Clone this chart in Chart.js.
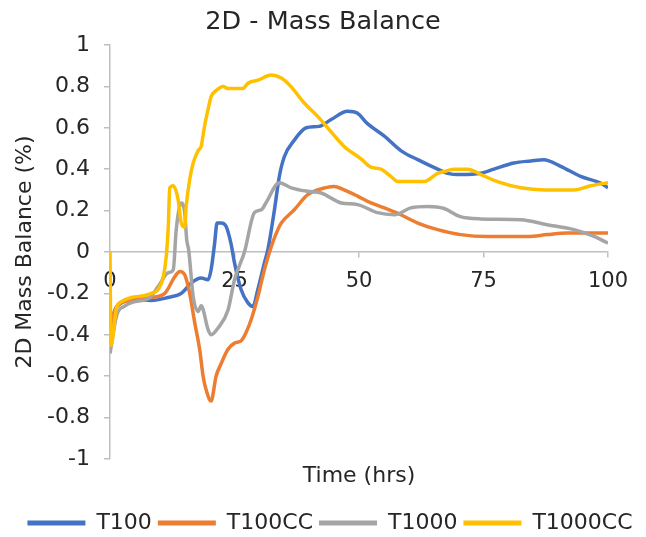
<!DOCTYPE html>
<html>
<head>
<meta charset="utf-8">
<title>2D - Mass Balance</title>
<script src="https://cdn.jsdelivr.net/npm/chart.js@4.4.1/dist/chart.umd.min.js"></script>
<style>
  html, body { margin: 0; padding: 0; background: #ffffff; }
  #wrap { width: 646px; height: 537px; }
</style>
</head>
<body>
<div id="wrap"><canvas id="chart" width="646" height="537"></canvas></div>
<script>
// Series names and colours
const seriesNames = ['T100', 'T100CC', 'T1000', 'T1000CC'];
const seriesColors = ['#4472C4', '#ED7D31', '#A5A5A5', '#FFC000'];

// Axis ticks
const xTicks = [0, 25, 50, 75, 100];
const yTicks = [-1, -0.8, -0.6, -0.4, -0.2, 0, 0.2, 0.4, 0.6, 0.8, 1];

// T100 (time in hrs, mass balance)
const t100Time = [0, 1, 2, 5, 8.3, 11.6, 14.3, 16.3, 18.3, 19.7, 20.3, 21.0, 21.5, 22.3, 23.3, 24.3, 25.0, 26.3, 27.7, 28.7, 29.7, 31.0, 31.7, 33.0, 34.0, 35.0, 37.0, 39.4, 42.0, 44.4, 47.7, 49.7, 51.7, 55.1, 58.4, 61.8, 65.8, 67.8, 70.4, 74.4, 77.1, 81.1, 84.5, 87.1, 90.5, 94.5, 98.5, 100];
const t100Values = [-0.38, -0.28, -0.25, -0.23, -0.234, -0.22, -0.2, -0.15, -0.126, -0.134, -0.086, 0.04, 0.14, 0.14, 0.124, 0.04, -0.053, -0.18, -0.246, -0.263, -0.18, -0.053, 0.011, 0.20, 0.365, 0.46, 0.54, 0.60, 0.607, 0.64, 0.68, 0.67, 0.62, 0.56, 0.49, 0.446, 0.40, 0.38, 0.374, 0.38, 0.40, 0.43, 0.44, 0.446, 0.414, 0.365, 0.333, 0.31];

// T100CC
const t100ccTime = [0, 1, 2, 5, 8.3, 11.0, 13.0, 14.0, 15.0, 16.0, 17.0, 18.0, 18.7, 19.3, 20.3, 21.3, 22.3, 23.7, 25.0, 26.3, 27.3, 28.3, 29.7, 31.0, 32.4, 33.7, 34.4, 37.0, 39.7, 41.7, 45.0, 47.0, 49.7, 52.4, 55.1, 58.4, 61.8, 65.8, 70.4, 75.8, 83.8, 87.8, 91.8, 100];
const t100ccValues = [-0.36, -0.28, -0.25, -0.23, -0.22, -0.2, -0.12, -0.094, -0.11, -0.2, -0.34, -0.47, -0.60, -0.666, -0.72, -0.60, -0.54, -0.47, -0.44, -0.43, -0.39, -0.33, -0.215, -0.086, 0.027, 0.108, 0.14, 0.204, 0.277, 0.30, 0.317, 0.30, 0.27, 0.237, 0.213, 0.18, 0.14, 0.108, 0.084, 0.075, 0.075, 0.084, 0.092, 0.092];

// T1000
const t1000Time = [0, 1.3, 3.0, 5, 8, 9.7, 11.7, 12.7, 13.3, 14.3, 15.0, 15.4, 15.8, 16.7, 17.7, 18.3, 19.7, 20.3, 21.7, 23.7, 25.0, 27.0, 29.0, 30.4, 31.3, 34.0, 36.4, 39.7, 42.4, 46.4, 49.7, 53.7, 57.1, 60.4, 63.8, 67.1, 70.2, 74.4, 82.5, 87.8, 93.2, 97.2, 100];
const t1000Values = [-0.49, -0.31, -0.26, -0.24, -0.22, -0.166, -0.10, -0.086, 0.108, 0.237, 0.19, 0.06, 0.01, -0.215, -0.287, -0.26, -0.375, -0.40, -0.367, -0.28, -0.134, 0.0, 0.19, 0.204, 0.237, 0.335, 0.31, 0.293, 0.285, 0.237, 0.229, 0.19, 0.18, 0.213, 0.22, 0.21, 0.172, 0.16, 0.156, 0.132, 0.108, 0.075, 0.043];

// T1000CC
const t1000ccTime = [0, 0.2, 1.3, 2.3, 4.3, 7, 8.3, 9.7, 10.7, 11.3, 11.7, 12.0, 12.7, 13.7, 14.3, 15.0, 15.3, 16.0, 16.7, 17.7, 18.3, 19.0, 19.7, 20.3, 21.3, 22.7, 23.7, 26.7, 27.7, 29.7, 32.4, 34.4, 36.3, 39.0, 41.7, 44.4, 47.0, 50.4, 52.4, 54.4, 56.4, 57.8, 63.1, 65.8, 67.4, 69.1, 71.8, 74.4, 77.8, 82.5, 87.2, 93.2, 96.5, 100];
const t1000ccValues = [0.0, -0.45, -0.27, -0.24, -0.22, -0.21, -0.2, -0.18, -0.12, -0.02, 0.12, 0.31, 0.32, 0.25, 0.14, 0.12, 0.22, 0.35, 0.43, 0.49, 0.51, 0.61, 0.69, 0.75, 0.78, 0.80, 0.79, 0.79, 0.815, 0.83, 0.855, 0.84, 0.80, 0.72, 0.655, 0.58, 0.51, 0.45, 0.41, 0.40, 0.365, 0.34, 0.34, 0.38, 0.39, 0.40, 0.40, 0.375, 0.34, 0.31, 0.30, 0.30, 0.32, 0.335];

const seriesTimes = [t100Time, t100ccTime, t1000Time, t1000ccTime];
const seriesValues = [t100Values, t100ccValues, t1000Values, t1000ccValues];

const FONT = "'DejaVu Sans', Verdana, sans-serif";
const TEXT = '#262626';
const AXIS = '#BFBFBF';

const toPoints = (times, values) => times.map((t, i) => ({ x: t, y: values[i] }));

// later series are drawn on top of earlier ones
const datasets = seriesNames.map((name, i) => ({
  label: name,
  data: toPoints(seriesTimes[i], seriesValues[i]),
  borderColor: seriesColors[i],
  backgroundColor: seriesColors[i],
  borderWidth: 3.5,
  pointRadius: 0,
  pointHoverRadius: 0,
  fill: false,
  cubicInterpolationMode: 'monotone',
  order: seriesNames.length - i,
  xAxisID: 'x',
  yAxisID: 'y'
}));

const zeroPadding = (s) => { s.paddingLeft = 0; s.paddingRight = 0; s.paddingTop = 0; s.paddingBottom = 0; };

// nudge the legend row slightly to the right
const legendShift = {
  id: 'legendShift',
  afterLayout(chart) {
    if (chart.legend) { chart.legend.left += 7; chart.legend.right += 7; }
  }
};

new Chart(document.getElementById('chart'), {
  type: 'line',
  data: { datasets },
  plugins: [legendShift],
  options: {
    responsive: false,
    animation: false,
    devicePixelRatio: 1,
    events: [],
    layout: { padding: { left: 0, right: 0, top: 0, bottom: -7 } },
    plugins: {
      title: {
        display: true,
        text: '2D - Mass Balance',
        color: TEXT,
        font: { family: FONT, size: 25.5, weight: 'normal' },
        padding: { top: 6.7, bottom: 7.7 }
      },
      legend: {
        position: 'bottom',
        labels: {
          color: TEXT,
          font: { family: FONT, size: 22 },
          usePointStyle: true,
          pointStyle: 'line',
          pointStyleWidth: 58,
          padding: 6,
          sort: (a, b) => a.datasetIndex - b.datasetIndex,
          generateLabels: (chart) => {
            const items = Chart.defaults.plugins.legend.labels.generateLabels(chart);
            items.forEach((it) => { it.lineWidth = 5; it.pointStyle = 'line'; });
            return items;
          }
        }
      },
      tooltip: { enabled: false }
    },
    scales: {
      x: {
        type: 'linear',
        axis: 'x',
        position: 'bottom',
        min: 0,
        max: 100,
        ticks: { display: false },
        grid: { display: false },
        border: { display: false },
        title: {
          display: true,
          text: 'Time (hrs)',
          color: TEXT,
          font: { family: FONT, size: 22 },
          padding: { top: 0, bottom: 16.8 }
        },
        afterFit: (s) => { s.height = 47; zeroPadding(s); }
      },
      xZero: {
        type: 'linear',
        axis: 'x',
        position: { y: 0 },
        min: 0,
        max: 100,
        afterBuildTicks: (s) => { s.ticks = xTicks.map((v) => ({ value: v })); },
        ticks: {
          color: TEXT,
          font: { family: FONT, size: 21 },
          padding: 12,
          maxRotation: 0,
          autoSkip: false
        },
        grid: { display: true, drawOnChartArea: false, drawTicks: true, tickLength: 5, color: AXIS, lineWidth: 1.5 },
        border: { display: true, color: AXIS, width: 1.5 },
        afterFit: zeroPadding
      },
      y: {
        type: 'linear',
        position: 'left',
        min: -1,
        max: 1,
        afterBuildTicks: (s) => { s.ticks = yTicks.map((v) => ({ value: v })); },
        ticks: {
          color: TEXT,
          font: { family: FONT, size: 22 },
          padding: 14,
          autoSkip: false,
          callback: (v) => String(Math.round(v * 10) / 10)
        },
        grid: { display: true, drawOnChartArea: false, drawTicks: true, tickLength: 6, color: AXIS, lineWidth: 1.5 },
        border: { display: true, color: AXIS, width: 1.5 },
        title: {
          display: true,
          text: '2D Mass Balance (%)',
          color: TEXT,
          font: { family: FONT, size: 22 },
          padding: { top: 12.2, bottom: 0 }
        },
        afterFit: (s) => { s.width = 110; zeroPadding(s); }
      },
      // empty right-hand margin column
      yMargin: {
        type: 'linear',
        axis: 'y',
        position: 'right',
        min: -1,
        max: 1,
        ticks: { display: false },
        grid: { display: false },
        border: { display: false },
        afterFit: (s) => { s.width = 38; zeroPadding(s); }
      }
    }
  }
});
</script>
</body>
</html>
